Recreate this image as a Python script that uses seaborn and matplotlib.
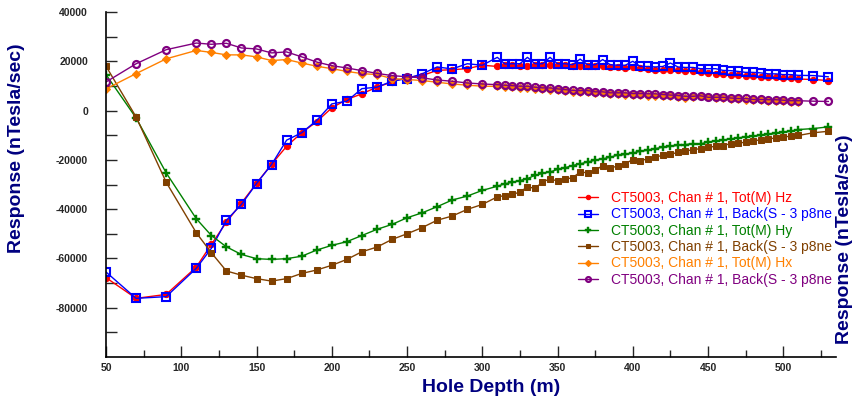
import matplotlib
matplotlib.use("Agg")
import matplotlib.pyplot as plt
import matplotlib.ticker as mticker
import seaborn as sns
import pandas as pd

depth = [50, 70, 90, 110, 120, 130, 140, 150, 160, 170, 180, 190, 200, 210, 220, 230,
         240, 250, 260, 270, 280, 290, 300, 310, 315, 320, 325, 330, 335, 340, 345, 350,
         355, 360, 365, 370, 375, 380, 385, 390, 395, 400, 405, 410, 415, 420, 425, 430,
         435, 440, 445, 450, 455, 460, 465, 470, 475, 480, 485, 490, 495, 500, 505, 510,
         520, 530]

tot_hz = [-67800, -76200, -74600, -63500, -54300, -45300, -37500, -29500, -21800, -14500,
          -9000, -4500, 1100, 4500, 6800, 9500, 11600, 13500, 14200, 16300, 16600, 17000,
          18400, 17900, 18600, 18600, 18000, 18200, 18600, 18600, 18600, 18600, 18300, 17900,
          17900, 17900, 17900, 17900, 17700, 17500, 17300, 17500, 17300, 16900, 16600, 16600,
          16600, 16300, 16200, 15900, 15500, 15300, 15000, 14900, 14600, 14300, 14200, 14200,
          13700, 13500, 13500, 13200, 13200, 12800, 12600, 12200]

back_hz = [-65500, -76200, -75500, -64000, -55900, -44500, -38100, -29600, -21900, -12000,
           -9000, -4000, 2700, 3800, 8900, 9500, 11900, 13000, 14900, 17700, 16900, 19000,
           18400, 21600, 18900, 19000, 19000, 21600, 19000, 19000, 21600, 19000, 19000, 18600,
           20900, 18600, 18600, 20700, 18600, 18400, 18400, 20000, 17900, 17900, 17700, 17900,
           19300, 17700, 17500, 17500, 17000, 17000, 17000, 16300, 16200, 15900, 15500, 15500,
           15300, 14900, 14900, 14600, 14600, 14300, 14200, 13700]

tot_hy = [14600, -3000, -25300, -43900, -50700, -55300, -58400, -60100, -60400, -60100,
          -59100, -56600, -54700, -53200, -50700, -48200, -46200, -43500, -41500, -39000,
          -36300, -34700, -32400, -30700, -29700, -29100, -28400, -27600, -26300, -25500,
          -24900, -23900, -23200, -22300, -21600, -20900, -20100, -19600, -18900, -18100,
          -17800, -17200, -16500, -16100, -15400, -14900, -14500, -14100, -13800, -13400,
          -13500, -12800, -12400, -12000, -11500, -11100, -10700, -10400, -10100, -9700,
          -9300, -8800, -8400, -7700, -7300, -6600]

back_hy = [18000, -2600, -29100, -49600, -57700, -65100, -66800, -68200, -69200, -68200,
           -66100, -64700, -62800, -60400, -57300, -55400, -52300, -50000, -47500, -44500,
           -42800, -40100, -38100, -35000, -34500, -34000, -33100, -30900, -31600, -29000,
           -27700, -28600, -27900, -27200, -25000, -25200, -24300, -22300, -23200, -22600,
           -21500, -19900, -20300, -19600, -18800, -18200, -17800, -16900, -16500, -15800,
           -15500, -14900, -14500, -14200, -13400, -13100, -12900, -12400, -11800, -11500,
           -11100, -10700, -10400, -10100, -9000, -8400]

tot_hx = [8800, 15000, 21000, 24400, 23600, 22600, 22600, 21800, 20300, 20700, 19300, 18000,
          17000, 15900, 15000, 14600, 13000, 12600, 12200, 11500, 10800, 10300, 9900, 9800,
          9600, 9400, 9200, 9200, 8900, 8600, 8500, 8200, 8000, 7700, 7500, 7500, 7000, 7000,
          6700, 6600, 6500, 6300, 6200, 6100, 6100, 5900, 5800, 5600, 5300, 5400, 5800, 5500,
          5000, 4900, 4700, 4500, 4400, 4200, 4100, 4000, 4000, 3800, 3600, 3600]

back_hx = [11600, 19000, 24700, 27400, 26900, 27300, 25400, 25000, 23400, 23800, 21800,
           19700, 18200, 17300, 16200, 15100, 14200, 13700, 13300, 12400, 11900, 11200, 10800,
           10500, 10300, 10100, 9900, 9900, 9500, 9200, 9200, 8800, 8500, 8200, 8100, 8100,
           7600, 7600, 7200, 7200, 7200, 6900, 6900, 6800, 6800, 6500, 6300, 6100, 5800, 5800,
           6000, 5400, 5400, 5400, 5100, 4900, 4900, 4500, 4500, 4400, 4400, 4200, 4000, 4000,
           3800, 3700]

labels = ["CT5003, Chan # 1, Tot(M) Hz",
          "CT5003, Chan # 1, Back(S - 3 p8ne",
          "CT5003, Chan # 1, Tot(M) Hy",
          "CT5003, Chan # 1, Back(S - 3 p8ne",
          "CT5003, Chan # 1, Tot(M) Hx",
          "CT5003, Chan # 1, Back(S - 3 p8ne"]

y_ticks_labeled = [40000, 20000, 0, -20000, -40000, -60000, -80000]
x_ticks = [50, 100, 150, 200, 250, 300, 350, 400, 450, 500]

sns.set_style("ticks")
plt.rcParams["font.family"] = ["Liberation Sans", "DejaVu Sans"]

fig = plt.figure(figsize=(8.54, 3.99), dpi=100)
ax = fig.add_axes([106 / 854, 1 - 357 / 399, (836 - 106) / 854, (357 - 12) / 399])

series = [
    (tot_hz, dict(color="#FF0000", marker="o", markersize=4.5, markerfacecolor="#FF0000",
                  markeredgecolor="#FF0000")),
    (back_hz, dict(color="#0000FF", marker="s", markersize=6, markerfacecolor="none",
                   markeredgecolor="#0000FF", markeredgewidth=1.5)),
    (tot_hy, dict(color="#008000", marker="P", markersize=6, markerfacecolor="#008000",
                  markeredgecolor="#008000", markeredgewidth=0.3)),
    (back_hy, dict(color="#804000", marker="s", markersize=5, markerfacecolor="#804000",
                   markeredgecolor="#804000")),
    (tot_hx, dict(color="#FF8000", marker="D", markersize=4.5, markerfacecolor="#FF8000",
                  markeredgecolor="#FF8000")),
    (back_hx, dict(color="#800080", marker="o", markersize=5, markerfacecolor="none",
                   markeredgecolor="#800080", markeredgewidth=1.6)),
]

legend_colors = []
for (vals, kw), lab in zip(series, labels):
    df = pd.DataFrame({"depth": depth[:len(vals)], "val": vals})
    sns.lineplot(data=df, x="depth", y="val", ax=ax, linewidth=1.0, label=lab,
                 sort=False, estimator=None, **kw)
    legend_colors.append(kw["color"])

ax.set_xlim(50, 535)
ax.set_ylim(-100000, 40000)
ax.set_xlabel("")
ax.set_ylabel("")

ax.xaxis.set_major_locator(mticker.FixedLocator(x_ticks))
ax.xaxis.set_minor_locator(mticker.FixedLocator([75, 125, 175, 225, 275, 325, 375, 425, 475, 525]))
ax.yaxis.set_major_locator(mticker.FixedLocator(y_ticks_labeled))
ax.yaxis.set_minor_locator(mticker.FixedLocator([30000, 10000, -10000, -30000, -50000, -70000, -90000]))
ax.yaxis.set_major_formatter(mticker.FuncFormatter(lambda v, p: f"{int(v)}"))

ax.tick_params(axis="x", which="major", direction="in", length=8, width=1, labelsize=7.5, pad=4)
ax.tick_params(axis="x", which="minor", direction="in", length=5, width=1)
ax.tick_params(axis="y", which="major", direction="in", length=8, width=1, labelsize=7.5, pad=13)
ax.tick_params(axis="y", which="minor", direction="in", length=8, width=1)
for lab in ax.get_xticklabels() + ax.get_yticklabels():
    lab.set_fontweight("bold")

sns.despine(ax=ax, top=True, right=True)
ax.spines["left"].set_linewidth(1.2)
ax.spines["bottom"].set_linewidth(1.2)
ax.spines["left"].set_color("#000000")
ax.spines["bottom"].set_color("#000000")

leg = ax.legend(loc="upper left", bbox_to_anchor=(578 / 854, 1 - 191 / 399),
                bbox_transform=fig.transFigure, frameon=False, fontsize=10,
                handlelength=1.45, handletextpad=0.9, labelspacing=0.17,
                borderpad=0, borderaxespad=0, markerscale=0.7)
for txt, c in zip(leg.get_texts(), legend_colors):
    txt.set_color(c)

navy = "#000080"
fig.text(17 / 854, 1 - 148 / 399, "Response (nTesla/sec)", rotation=90, ha="center",
         va="center", fontsize=14, fontweight="bold", color=navy)
fig.text(845 / 854, 1 - 239 / 399, "Response (nTesla/sec)", rotation=90, ha="center",
         va="center", fontsize=14, fontweight="bold", color=navy)
fig.text(491 / 854, 1 - 388 / 399, "Hole Depth (m)", ha="center", va="center",
         fontsize=14, fontweight="bold", color=navy)

fig.savefig("out.png", dpi=100)
